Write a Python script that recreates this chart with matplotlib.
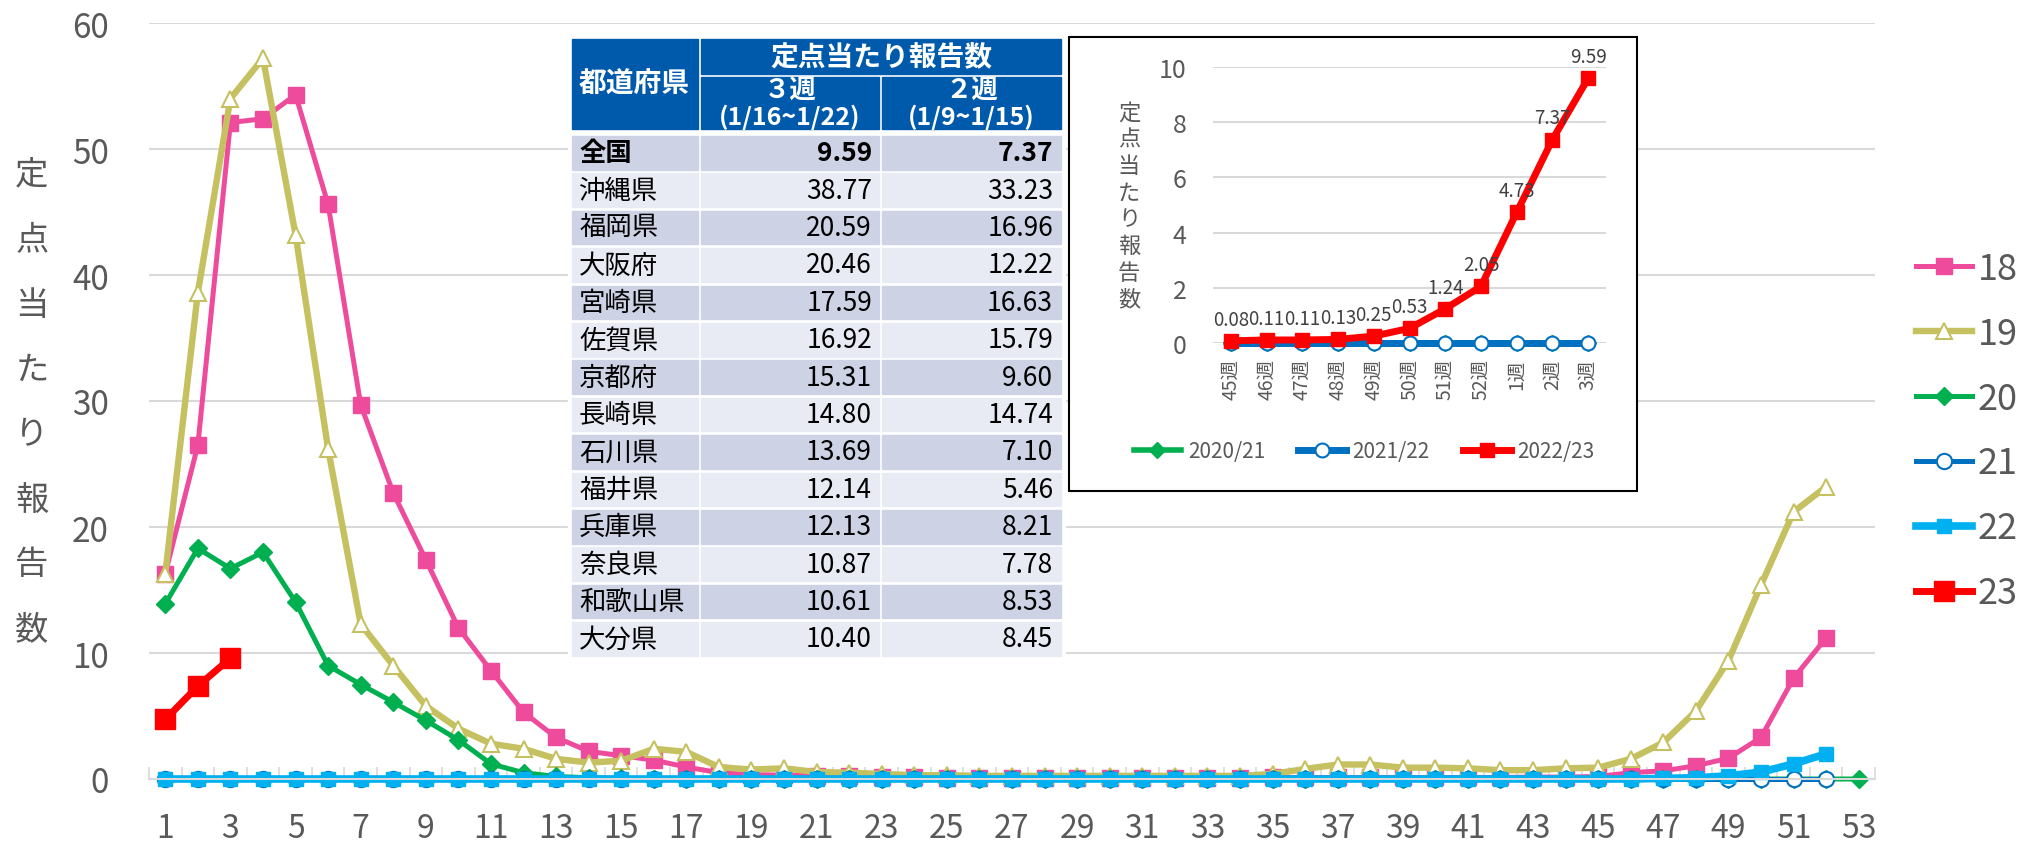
import numpy as np
import matplotlib.pyplot as plt
from matplotlib.patches import Rectangle

plt.rcParams['font.family'] = ['Noto Sans CJK JP', 'DejaVu Sans']

# main chart: weekly reports per sentinel, by season start year
weeks = np.arange(1, 54)
s18 = [16.3, 26.5, 52.1, 52.4, 54.3, 45.6, 29.7, 22.7, 17.4, 12.0, 8.6, 5.3, 3.3,
       2.2, 1.85, 1.5, 0.95, 0.5, 0.35, 0.3, 0.25, 0.2, 0.15, 0.12, 0.1, 0.1, 0.1,
       0.1, 0.1, 0.1, 0.1, 0.1, 0.1, 0.1, 0.12, 0.12, 0.12, 0.12, 0.12, 0.12, 0.12,
       0.12, 0.15, 0.15, 0.2, 0.5, 0.65, 1.05, 1.65, 3.3, 8.0, 11.2]
s19 = [16.3, 38.6, 54.0, 57.2, 43.2, 26.2, 12.3, 9.0, 5.8, 4.0, 2.8, 2.4, 1.6,
       1.3, 1.45, 2.4, 2.15, 0.95, 0.75, 0.85, 0.55, 0.5, 0.4, 0.3, 0.3, 0.25, 0.25,
       0.25, 0.25, 0.25, 0.25, 0.25, 0.25, 0.25, 0.4, 0.8, 1.15, 1.15, 0.9, 0.9, 0.85,
       0.7, 0.7, 0.85, 0.9, 1.6, 2.9, 5.4, 9.4, 15.4, 21.2, 23.2]
s20 = [13.9, 18.3, 16.7, 18.0, 14.05, 9.0, 7.5, 6.1, 4.65, 3.1, 1.2, 0.5, 0.2,
       0.1, 0.05] + [0.0] * 38
s21 = [0.0] * 52
s22 = [0.0] * 46 + [0.05, 0.1, 0.25, 0.55, 1.2, 2.0]
s23 = [4.73, 7.37, 9.59]
season_labels = ['18', '19', '20', '21', '22', '23']

# table
prefs = ['全国', '沖縄県', '福岡県', '大阪府', '宮崎県', '佐賀県', '京都府', '長崎県',
         '石川県', '福井県', '兵庫県', '奈良県', '和歌山県', '大分県']
week3 = [9.59, 38.77, 20.59, 20.46, 17.59, 16.92, 15.31, 14.80, 13.69, 12.14,
         12.13, 10.87, 10.61, 10.40]
week2 = [7.37, 33.23, 16.96, 12.22, 16.63, 15.79, 9.60, 14.74, 7.10, 5.46,
         8.21, 7.78, 8.53, 8.45]

# inset
inset_weeks = ['45週', '46週', '47週', '48週', '49週', '50週', '51週', '52週',
               '1週', '2週', '3週']
inset_2020 = [0.0] * 11
inset_2021 = [0.0] * 11
inset_2022 = [0.08, 0.11, 0.11, 0.13, 0.25, 0.53, 1.24, 2.05, 4.73, 7.37, 9.59]

gray = '#595959'
grid = '#D9D9D9'
W, H = 2020, 854

fig = plt.figure(figsize=(20.2, 8.54), dpi=100)
ax = fig.add_axes([149 / W, 74 / H, 1726 / W, 756 / H])

styles = [
    dict(color='#EF4B9C', marker='s', ms=12, lw=3.6),
    dict(color='#C6C160', marker='^', ms=12, lw=4.6, mfc='white', mew=1.5),
    dict(color='#00B050', marker='D', ms=9, lw=3.6),
    dict(color='#0070C0', marker='o', ms=11, lw=3.6, mfc='white', mew=1.5),
    dict(color='#00B0F0', marker='s', ms=10, lw=5.5),
    dict(color='#FF0000', marker='s', ms=15, lw=5),
]
lines = []
for vals, lab, st in zip([s18, s19, s20, s21, s22, s23], season_labels, styles):
    ln, = ax.plot(weeks[:len(vals)], vals, label=lab, clip_on=False, **st)
    lines.append(ln)

ax.set_xlim(0.5, 53.5)
ax.set_ylim(0, 60)
ax.set_yticks(range(0, 61, 10))
ax.set_xticks(range(1, 54, 2))
ax.set_xticks(np.arange(0.5, 54, 1), minor=True)
ax.yaxis.grid(True, color=grid, lw=1.5)
ax.set_axisbelow(True)
ax.tick_params(axis='y', length=0, pad=29, labelsize=24, labelcolor=gray)
ax.tick_params(axis='x', which='major', length=0, pad=24, labelsize=23, labelcolor=gray)
ax.tick_params(axis='x', which='minor', direction='in', length=9, width=1.2, color=grid)
for s in ['left', 'top', 'right']:
    ax.spines[s].set_visible(False)
ax.spines['bottom'].set_color(grid)
ax.spines['bottom'].set_linewidth(1.5)

for i, ch in enumerate('定点当たり報告数'):
    fig.text(32 / W, 1 - (175 + 65 * i) / H, ch, ha='center', va='center',
             fontsize=24, color=gray)

ax.legend(handles=lines, loc='center left', bbox_to_anchor=(1916 / W, 1 - 432 / H),
          bbox_transform=fig.transFigure, frameon=False, fontsize=26,
          handlelength=1.55, handletextpad=0.15, labelspacing=0.8, borderpad=0,
          borderaxespad=0, labelcolor=gray)

# overlay for the table and inset frame
ov = fig.add_axes([0, 0, 1, 1], zorder=2)
ov.set_xlim(0, W)
ov.set_ylim(H, 0)
ov.axis('off')
ov.patch.set_visible(False)

blue = '#005AAB'
dark_row = '#CDD3E5'
light_row = '#E8EBF4'
ov.add_patch(Rectangle((568, 37), 497, 624, color='white'))
ov.add_patch(Rectangle((572, 40), 126, 90, color=blue))
ov.add_patch(Rectangle((701, 40), 360, 35, color=blue))
ov.add_patch(Rectangle((701, 78), 178, 52, color=blue))
ov.add_patch(Rectangle((882, 78), 179, 52, color=blue))
hdr = dict(color='white', fontweight='bold', va='center')
ov.text(579, 85, '都道府県', ha='left', fontsize=20, **hdr)
ov.text(881, 58, '定点当たり報告数', ha='center', fontsize=20, **hdr)
ov.text(790, 90, '３週', ha='center', fontsize=19, **hdr)
ov.text(790, 117, '(1/16~1/22)', ha='center', fontsize=18, **hdr)
ov.text(971.5, 90, '２週', ha='center', fontsize=19, **hdr)
ov.text(971.5, 117, '(1/9~1/15)', ha='center', fontsize=18, **hdr)

cols = [(572, 126), (701, 178), (882, 179)]
for i, (p, a, b) in enumerate(zip(prefs, week3, week2)):
    y0 = 137 + i * 37.4
    h = 33.6
    fc = dark_row if i % 2 == 0 else light_row
    for cx, cw in cols:
        ov.add_patch(Rectangle((cx, y0), cw, h, color=fc))
    fw = 'bold' if i == 0 else 'normal'
    yc = y0 + h / 2
    ov.text(579, yc, p, ha='left', va='center', fontsize=19, fontweight=fw, color='black')
    ov.text(872, yc, f'{a:.2f}', ha='right', va='center', fontsize=19, fontweight=fw, color='black')
    ov.text(1053, yc, f'{b:.2f}', ha='right', va='center', fontsize=19, fontweight=fw, color='black')

ov.add_patch(Rectangle((1069, 38), 568, 454, facecolor='white', edgecolor='black', lw=1.5))

# inset chart
axi = fig.add_axes([1213 / W, 1 - 344 / H, 393 / W, 276 / H], zorder=3)
axi.patch.set_visible(False)
xi = np.arange(len(inset_weeks))
axi.plot(xi, inset_2020, color='#00B050', marker='D', ms=8, lw=4, label='2020/21', clip_on=False)
axi.plot(xi, inset_2021, color='#0070C0', marker='o', ms=10, lw=5, mfc='white', mew=1.5,
         label='2021/22', clip_on=False)
axi.plot(xi, inset_2022, color='#FF0000', marker='s', ms=10, lw=5, label='2022/23', clip_on=False)
for x, v in zip(xi, inset_2022):
    axi.annotate(f'{v:.2f}', (x, v), xytext=(0, 8), textcoords='offset points', ha='center',
                 va='bottom', fontsize=13.5, color='#404040', annotation_clip=False)
axi.set_xlim(-0.5, len(inset_weeks) - 0.5)
axi.set_ylim(0, 10)
axi.set_yticks(range(0, 11, 2))
axi.set_xticks(xi)
axi.set_xticklabels(inset_weeks, rotation=90)
axi.yaxis.grid(True, color=grid, lw=1.5)
axi.set_axisbelow(True)
axi.tick_params(axis='y', length=0, pad=19, labelsize=18, labelcolor=gray)
axi.tick_params(axis='x', length=0, pad=11, labelsize=14, labelcolor=gray)
for s in axi.spines.values():
    s.set_visible(False)
for i, ch in enumerate('定点当たり報告数'):
    fig.text(1129 / W, 1 - (113 + 26.7 * i) / H, ch, ha='center', va='center',
             fontsize=16, color=gray, zorder=4)
axi.legend(ncol=3, loc='center', bbox_to_anchor=(1364 / W, 1 - 452 / H),
           bbox_transform=fig.transFigure, frameon=False, fontsize=15, handlelength=2.3,
           columnspacing=1.6, handletextpad=0.3, labelcolor=gray)

fig.savefig('out.png', dpi=100)
